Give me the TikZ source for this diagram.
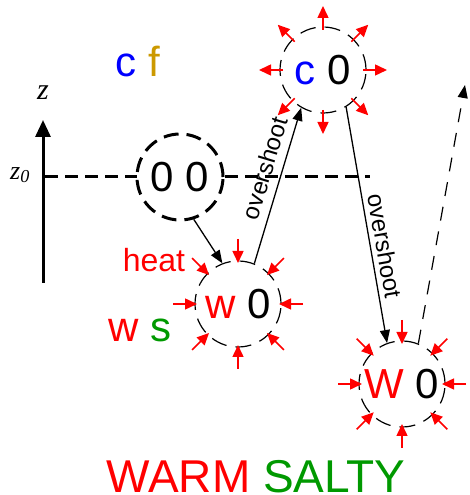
\documentclass[tikz,border=0pt]{standalone}
\usepackage{fontspec}
\setmainfont{Liberation Sans}
\newfontfamily\zfont{Liberation Serif}
\usetikzlibrary{arrows.meta,calc}
\definecolor{hot}{HTML}{FF0000}
\definecolor{cold}{HTML}{0000FF}
\definecolor{salt}{HTML}{009900}
\definecolor{fresh}{HTML}{CC9900}
\newcommand{\parcelfont}{\fontsize{42}{46}\selectfont}
\newcommand{\tagfont}{\fontsize{24}{28}\selectfont}
\tikzset{
 word/.style={inner sep=0pt},
 parcel/.style={circle,draw,minimum size=86pt,inner sep=0pt,line width=1.2pt,dash pattern=on 16pt off 9pt,font=\parcelfont},
 refparcel/.style={parcel,line width=3pt,dash pattern=on 15pt off 8pt,fill=white},
 flux/.style={-{Triangle[length=12pt,width=11pt]},draw=hot,line width=1.5pt},
 flow/.style={-{Triangle[length=13pt,width=10pt]},line width=1.3pt},
 level/.style={line width=3pt,dash pattern=on 13pt off 7pt},
}

\begin{document}
\begin{tikzpicture}[x=1pt,y=1pt]
\useasboundingbox (0,0) rectangle (469,495);

% height axis and reference level
\node[word,font=\fontsize{30}{32}\selectfont\zfont\itshape] (zlab) at (43,402) {z};
\node[word,font=\fontsize{26}{28}\selectfont\zfont\itshape] (z0lab) at (20,320) {z\textsubscript{0}};
\coordinate (zbot) at (43,212);
\coordinate (ztop) at (43,375);
\draw[-{Triangle[length=17pt,width=15pt]},line width=3pt] (zbot) -- (ztop);
\coordinate (levelL) at (45,318);
\coordinate (levelR) at (370,318);
\draw[level] (levelL) -- (levelR);

\node[word,font=\parcelfont,anchor=base] (cf) at (138,418) {\textcolor{cold}{c} \textcolor{fresh}{f}};
\node[word,font=\parcelfont,anchor=base] (ws) at (140,153) {\textcolor{hot}{w} \textcolor{salt}{s}};
\node[word,font=\fontsize{32}{34}\selectfont,text=hot,anchor=base] (heat) at (154,223) {heat};

% parcels
\node[refparcel] (z0) at (180,318) {0 0};
\node[parcel] (c0) at (323,425) {\textcolor{cold}{c} 0};
\node[parcel] (w0) at (238,191) {\textcolor{hot}{w} 0};
\node[parcel] (W0) at (402,111) {\textcolor{hot}{W} 0};

\foreach \a in {0,45,...,315} {
  \draw[flux] ($(c0)+(\a:40)$) -- ($(c0)+(\a:64)$);
  \draw[flux] ($(w0)+(\a:65)$) -- ($(w0)+(\a:41)$);
  \draw[flux] ($(W0)+(\a:64)$) -- ($(W0)+(\a:40)$);
}

\draw[flow] (z0.-72) -- (w0.111);
\draw[flow] (w0.68) -- node[word,font=\tagfont,sloped,above=8pt,pos=.58] (os1) {overshoot} (c0.240);
\draw[flow] (c0.-58) -- node[word,font=\tagfont,sloped,above=5pt,pos=.6] (os2) {overshoot} (W0.110);
\coordinate (rise) at (465,410);
\draw[flow,dash pattern=on 14pt off 11pt,line width=1.2pt] (W0.68) -- (rise);

\node[word,font=\fontsize{46}{50}\selectfont,anchor=base,text depth=0pt] (title) at (256,2) {\textcolor{hot}{WARM} \textcolor{salt}{SALTY}};

\end{tikzpicture}
\end{document}
